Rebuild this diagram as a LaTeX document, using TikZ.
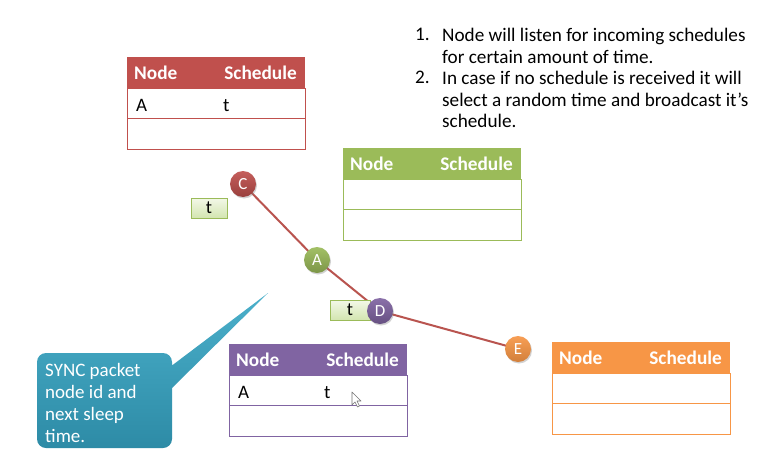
\documentclass[tikz,border=0pt]{standalone}
\usepackage{fontspec}
\setmainfont{Carlito}
\usetikzlibrary{shadows,backgrounds}
\definecolor{tred}{HTML}{C0504D}
\definecolor{tgreen}{HTML}{9BBB59}
\definecolor{tpurple}{HTML}{8064A2}
\definecolor{torange}{HTML}{F79646}
\definecolor{linkred}{HTML}{B9544F}
\definecolor{tealtop}{HTML}{4BB0CB}
\definecolor{tealbot}{HTML}{2D8BA6}
\definecolor{tagtop}{HTML}{F3F8E8}
\definecolor{tagbot}{HTML}{D3E5B0}

\tikzset{
  hdr/.style={rectangle, anchor=north west, minimum width=178pt, minimum height=31pt,
    inner sep=0pt, outer sep=0pt},
  cell/.style={rectangle, anchor=north west, minimum width=178pt, minimum height=30.5pt,
    inner sep=0pt, outer sep=0pt, fill=white, line width=0.9pt},
  htext/.style={font=\bfseries\fontsize{19.3}{20}\selectfont, text=white, inner sep=0pt},
  ctext/.style={font=\fontsize{19}{20}\selectfont, inner sep=0pt},
  netnode/.style={circle, minimum size=26pt, inner sep=0pt, text=white,
    font=\fontsize{17}{17}\selectfont, drop shadow={shadow xshift=1pt, shadow yshift=-1.5pt, opacity=0.35}},
  tag/.style={rectangle, minimum height=20pt, inner sep=0pt, draw=tgreen, line width=0.6pt,
    top color=tagtop, bottom color=tagbot, font=\fontsize{18.5}{18.5}\selectfont},
  link/.style={draw=linkred, line width=2pt},
  listtext/.style={font=\fontsize{19.2}{21.5}\selectfont, inner sep=0pt, align=left, anchor=north west},
}

% schedule table: name, left x, top y, colour, first-row node, first-row schedule,
% x offset of the schedule column
\newcommand\schedtab[7]{%
  \node[hdr, fill=#4] (#1h) at (#2,#3) {};
  \node[cell, draw=#4] (#1a) at (#1h.south west) {};
  \node[cell, draw=#4] (#1b) at (#1a.south west) {};
  \node[htext, anchor=base west] (#1hn) at ({#2+7},{#3+22}) {Node};
  \node[htext, anchor=base east] (#1hs) at ({#2+170},{#3+22}) {Schedule};
  \node[ctext, anchor=base west] (#1an) at ({#2+9},{#3+54}) {#5};
  \node[ctext, anchor=base west] (#1as) at ({#2+#7},{#3+54}) {#6};
}

\begin{document}
\begin{tikzpicture}[x=1pt, y=-1pt]
\useasboundingbox (0,0) rectangle (759,460);

% numbered explanation
\node[listtext] (n1) at (415,28) {1.};
\node[listtext] (l1) at (442,28) {Node will listen for incoming schedules\\for certain amount of time.};
\node[listtext] (n2) at (415,71) {2.};
\node[listtext] (l2) at (442,71) {In case if no schedule is received it will\\select a random time and broadcast it’s\\schedule.};

% schedule tables
\schedtab{rt}{127}{57}{tred}{A}{t}{96}
\schedtab{gt}{343}{148}{tgreen}{}{}{96}
\schedtab{pt}{229}{344}{tpurple}{A}{t}{95}
\schedtab{ot}{552}{342}{torange}{}{}{96}

% sync packet tags
\node[tag, minimum width=36pt] (tag1) at (209,208) {t};
\node[tag, minimum width=40pt] (tag2) at (350,310) {t};

% network nodes
\node[netnode, top color=tred!92!white, bottom color=tred!80!black] (C) at (243,184) {C};
\node[netnode, top color=tgreen!92!white, bottom color=tgreen!80!black] (A) at (317,260) {A};
\node[netnode, top color=tpurple!92!white, bottom color=tpurple!80!black] (D) at (380,311) {D};
\node[netnode, top color=torange!92!white, bottom color=torange!85!black] (E) at (518,349) {E};

% links run behind the nodes
\begin{scope}[on background layer]
\fill[white] (0,0) rectangle (759,460);
\path[link] (C.center) -- (A.center) -- (D.center) -- (E.center);
\end{scope}

% callout
\coordinate (tip) at (268,293);
\path[top color=tealtop, bottom color=tealbot]
  [rounded corners=9pt] (37,353) rectangle (172,448)
  [sharp corners] (166,394) -- (tip) -- (166,370) -- cycle;
% the base anchor of a multi-line node sits on its last line
\node[inner sep=0pt, anchor=base west, align=left, text=white,
  font=\fontsize{19}{22}\selectfont] (sync) at (45,442)
  {SYNC packet\\node id and\\next sleep\\time.};

% mouse pointer
\draw[fill=white, draw=black!55, line width=0.6pt, line join=round]
  (352,392) -- (352,405) -- (355,402) -- (357.5,407) -- (359.5,406) -- (357,401) -- (361,401) -- cycle;
\end{tikzpicture}
\end{document}
